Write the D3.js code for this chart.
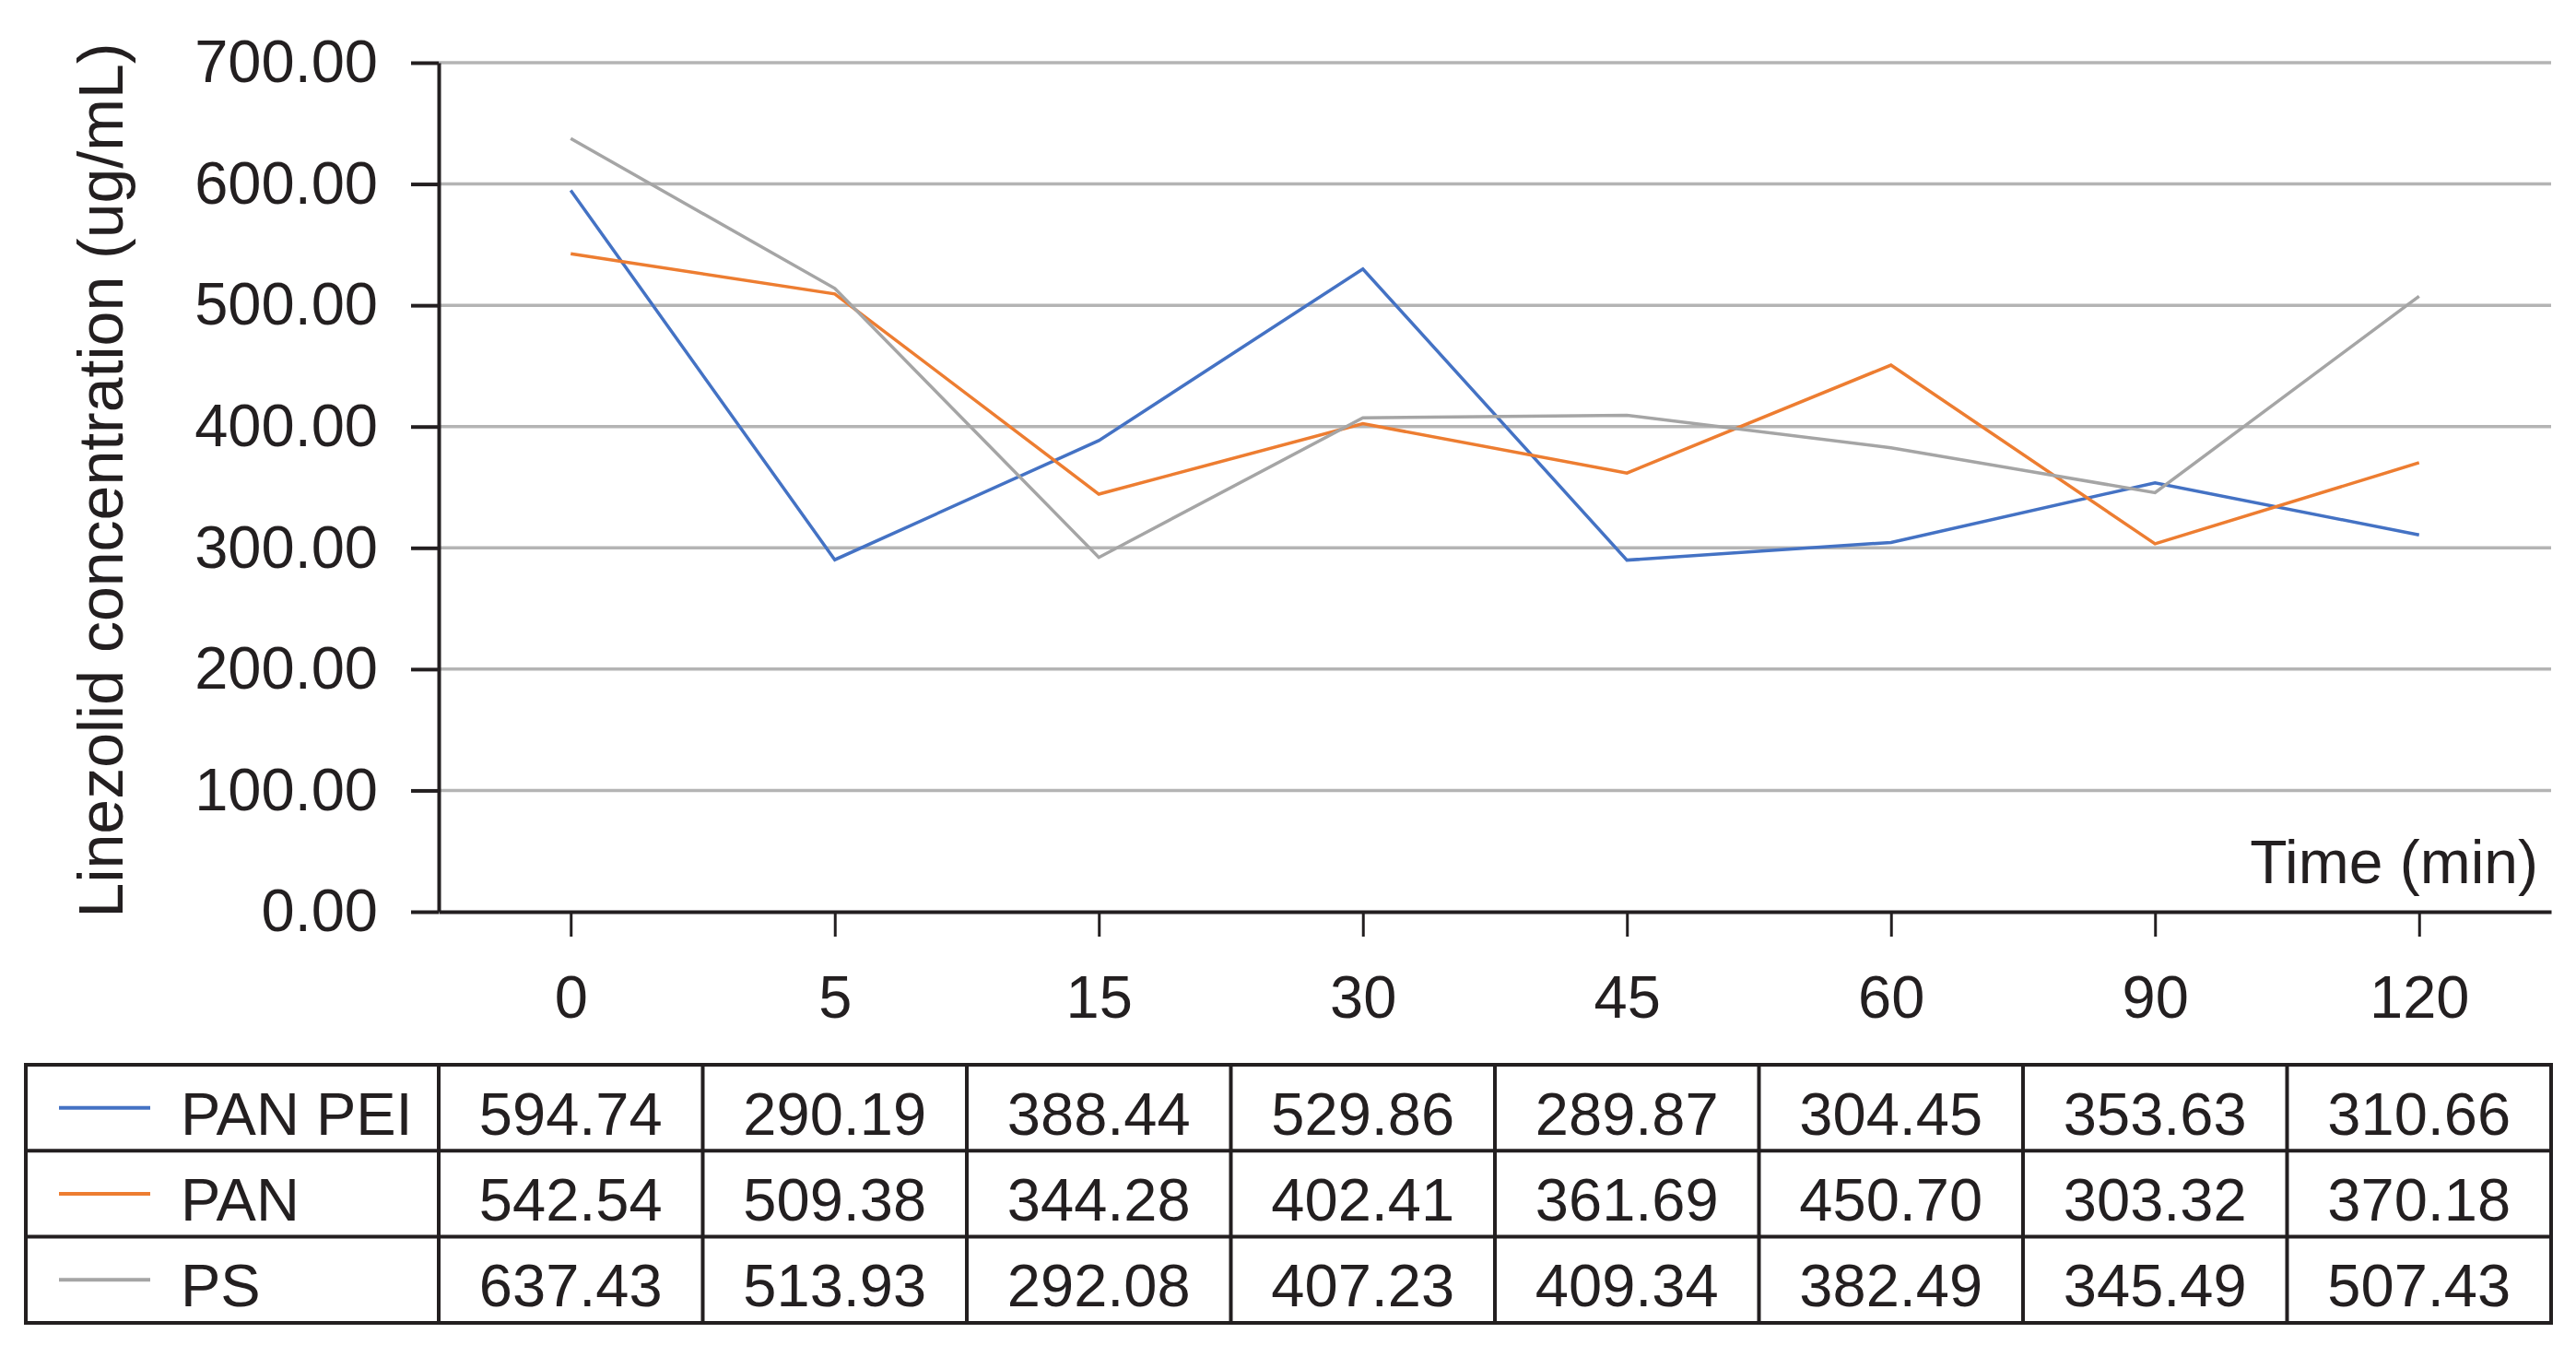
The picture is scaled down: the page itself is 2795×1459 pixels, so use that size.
<!DOCTYPE html>
<html>
<head>
<meta charset="utf-8">
<script src="https://cdn.jsdelivr.net/npm/d3@7"></script>
<style>
  html, body { margin: 0; padding: 0; background: #fff; }
  svg { display: block; }
  text { font-family: "Liberation Sans", Arial, Helvetica, sans-serif; fill: #231f20; }
</style>
</head>
<body>
<svg id="chart" width="2795" height="1459"></svg>
<script>
// ---- Data ----
const categories = ["0", "5", "15", "30", "45", "60", "90", "120"];
const seriesNames = ["PAN PEI", "PAN", "PS"];
const seriesColors = ["#4472C4", "#ED7D31", "#A5A5A5"];
const panPei = [594.74, 290.19, 388.44, 529.86, 289.87, 304.45, 353.63, 310.66];
const pan = [542.54, 509.38, 344.28, 402.41, 361.69, 450.70, 303.32, 370.18];
const ps = [637.43, 513.93, 292.08, 407.23, 409.34, 382.49, 345.49, 507.43];
const yTicks = [0, 100, 200, 300, 400, 500, 600, 700];
const yTitle = "Linezolid concentration (ug/mL)";
const xTitle = "Time (min)";

const seriesValues = [panPei, pan, ps];

// ---- Layout ----
const svg = d3.select("#chart");
const plotLeft = 476, plotRight = 2768, plotTop = 68, plotBottom = 989;
const tableLeft = 28, tableTop = 1155, rowH = 93.3;
const axisColor = "#231f20";
const fs = 65;

const x = d3.scaleBand().domain(categories).range([plotLeft, plotRight]).padding(0);
const xc = c => x(c) + x.bandwidth() / 2;
const y = d3.scaleLinear().domain([0, 700]).range([plotBottom, plotTop]);

// gridlines
svg.append("g").selectAll("line")
  .data(yTicks.filter(t => t > 0))
  .join("line")
  .attr("x1", plotLeft).attr("x2", plotRight)
  .attr("y1", d => y(d)).attr("y2", d => y(d))
  .attr("stroke", "#b4b4b4").attr("stroke-width", 3.5);

// y axis
const yAxis = svg.append("g")
  .attr("transform", `translate(${plotLeft},0)`)
  .call(d3.axisLeft(y).tickValues(yTicks).tickSize(30).tickSizeOuter(0).tickPadding(36)
    .tickFormat(d3.format(".2f")));
yAxis.select(".domain").attr("stroke", axisColor).attr("stroke-width", 4);
yAxis.selectAll(".tick line").attr("stroke", axisColor).attr("stroke-width", 4);
yAxis.selectAll(".tick text").attr("font-size", fs).attr("fill", "#111")
  .style("font-family", "'Liberation Sans', Arial, sans-serif");

// x axis
const xPoint = d3.scalePoint().domain(categories).range([plotLeft, plotRight]).padding(0.5);
const xAxis = svg.append("g")
  .attr("transform", `translate(0,${plotBottom})`)
  .call(d3.axisBottom(xPoint).tickSize(27).tickSizeOuter(0).tickPadding(42));
xAxis.select(".domain").attr("stroke", axisColor).attr("stroke-width", 4);
xAxis.selectAll(".tick line").attr("stroke", axisColor).attr("stroke-width", 3);
xAxis.selectAll(".tick text").attr("font-size", fs).attr("fill", "#111")
  .style("font-family", "'Liberation Sans', Arial, sans-serif");

// axis titles
svg.append("text")
  .attr("transform", `translate(133,521) rotate(-90)`)
  .attr("text-anchor", "middle")
  .attr("font-size", 68)
  .text(yTitle);

svg.append("text")
  .attr("x", 2754).attr("y", 958)
  .attr("text-anchor", "end")
  .attr("font-size", 66)
  .text(xTitle);

// lines
const line = d3.line().x((d, i) => xc(categories[i])).y(d => y(d));
seriesValues.forEach((vals, si) => {
  svg.append("path")
    .datum(vals)
    .attr("d", line)
    .attr("fill", "none")
    .attr("stroke", seriesColors[si])
    .attr("stroke-width", 3.5)
    .attr("stroke-linejoin", "miter");
});

// ---- Data table ----
const tg = svg.append("g");
const tableBottom = tableTop + rowH * seriesNames.length;
d3.range(seriesNames.length + 1).forEach(r => {
  tg.append("line")
    .attr("x1", tableLeft).attr("x2", plotRight)
    .attr("y1", tableTop + r * rowH).attr("y2", tableTop + r * rowH)
    .attr("stroke", axisColor).attr("stroke-width", 4);
});
const colEdges = [tableLeft].concat(categories.map(c => x(c))).concat([plotRight]);
colEdges.forEach(cx => {
  tg.append("line")
    .attr("x1", cx).attr("x2", cx)
    .attr("y1", tableTop - 2).attr("y2", tableBottom + 2)
    .attr("stroke", axisColor).attr("stroke-width", 4);
});

seriesNames.forEach((name, si) => {
  const cy = tableTop + si * rowH + rowH / 2;
  tg.append("line")
    .attr("x1", 64).attr("x2", 163)
    .attr("y1", cy).attr("y2", cy)
    .attr("stroke", seriesColors[si]).attr("stroke-width", 4);
  tg.append("text")
    .attr("x", 196).attr("y", cy + 29)
    .attr("font-size", fs).attr("fill", "#111")
    .text(name);
  seriesValues[si].forEach((v, i) => {
    tg.append("text")
      .attr("x", xc(categories[i])).attr("y", cy + 29)
      .attr("text-anchor", "middle")
      .attr("font-size", fs).attr("fill", "#111")
      .text(v.toFixed(2));
  });
});
</script>
</body>
</html>
